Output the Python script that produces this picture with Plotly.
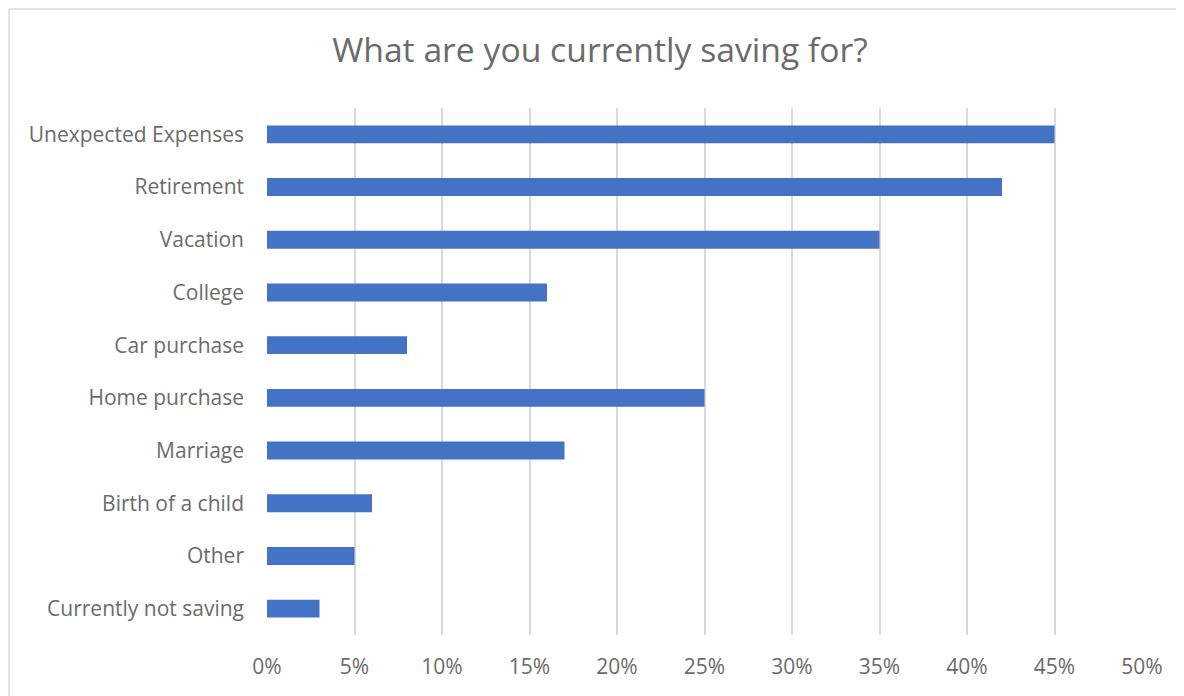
import plotly.graph_objects as go

categories = ["Unexpected Expenses", "Retirement", "Vacation", "College", "Car purchase",
              "Home purchase", "Marriage", "Birth of a child", "Other", "Currently not saving"]
values = [0.45, 0.42, 0.35, 0.16, 0.08, 0.25, 0.17, 0.06, 0.05, 0.03]
tick_vals = [0, 0.05, 0.10, 0.15, 0.20, 0.25, 0.30, 0.35, 0.40, 0.45, 0.50]
tick_text = ["0%", "5%", "10%", "15%", "20%", "25%", "30%", "35%", "40%", "45%", "50%"]

# page has an 8px body margin; figure placed at (8, 8)
OFF = 8
W, H = 1184 - OFF, 696 - OFF
ml, mr, mt, mb = 267 - OFF, 42, 108 - OFF, 61
pw, ph = W - ml - mr, H - mt - mb

fig = go.Figure(go.Bar(
    x=values, y=categories, orientation="h",
    marker=dict(color="#4472C4", line=dict(width=0)),
    hoverinfo="x+y",
))

txt = "#6b6b6b"
fig.update_layout(
    width=W, height=H,
    margin=dict(l=ml, r=mr, t=mt, b=mb),
    paper_bgcolor="white", plot_bgcolor="white",
    bargap=0.66,
    showlegend=False,
    font=dict(family="Open Sans", color=txt, size=21),
    title=dict(text="What are you currently saving for?", x=(600 - OFF) / W, xanchor="center",
               y=1 - (50 - OFF) / H, yanchor="middle",
               font=dict(size=33.7, color=txt, family="Open Sans")),
    xaxis=dict(range=[0, 0.5], tickvals=tick_vals, ticktext=tick_text,
               showgrid=True, gridcolor="#D9D9D9", gridwidth=1.5,
               zeroline=False, showline=False, ticks="",
               tickfont=dict(size=21, color=txt), ticklabelstandoff=17),
    yaxis=dict(categoryorder="array", categoryarray=categories[::-1],
               showgrid=False, zeroline=False, showline=False, ticks="",
               tickfont=dict(size=21, color=txt), ticklabelstandoff=22),
    shapes=[
        dict(type="line", xref="paper", yref="paper",
             x0=(1 - ml) / pw, x1=(W - ml) / pw,
             y0=1 + (mt - 1) / ph, y1=1 + (mt - 1) / ph,
             line=dict(color="#D9D9D9", width=1.5)),
        dict(type="line", xref="paper", yref="paper",
             x0=(1 - ml) / pw, x1=(1 - ml) / pw,
             y0=1 + (mt - 1) / ph, y1=-(mb) / ph,
             line=dict(color="#D9D9D9", width=1.5)),
    ],
)

fig.write_html("out.html")
